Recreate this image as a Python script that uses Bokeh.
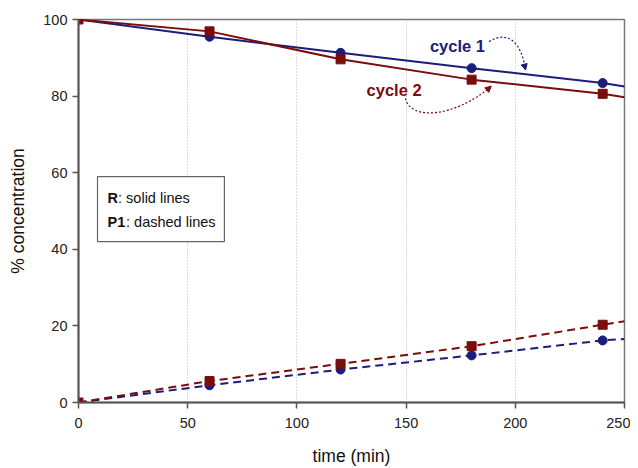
from bokeh.plotting import figure
from bokeh.models import Range1d, FixedTicker, Arrow, NormalHead
from bokeh.core.properties import value
from bokeh.embed import file_html
from bokeh.resources import INLINE

# ---- data ----
time = [0, 60, 120, 180, 240]
r_cycle1 = [100, 95.5, 91.3, 87.3, 83.4]
r_cycle2 = [100, 96.9, 89.6, 84.3, 80.6]
p1_cycle1 = [0, 4.5, 8.6, 12.3, 16.2]
p1_cycle2 = [0, 5.6, 10.1, 14.7, 20.3]
# lines continue to the right frame edge
t_end = 250
r_cycle1_end = 82.5
r_cycle2_end = 79.7
p1_cycle1_end = 16.6
p1_cycle2_end = 21.2

x_ticks = [0, 50, 100, 150, 200, 250]
y_ticks = [0, 20, 40, 60, 80, 100]

BLUE = "#1c1c7c"
RED = "#7a0c0c"
FONT = "Liberation Sans"

p = figure(width=630, height=468, output_backend="svg", toolbar_location=None,
           x_range=Range1d(0, 250), y_range=Range1d(0, 100),
           min_border_left=78, min_border_right=6, min_border_top=19, min_border_bottom=66)

p.outline_line_color = "#777777"
p.outline_line_width = 1.5
p.background_fill_color = "white"
p.border_fill_color = "white"

p.xaxis.ticker = FixedTicker(ticks=x_ticks)
p.yaxis.ticker = FixedTicker(ticks=y_ticks)
for ax in (p.xaxis[0], p.yaxis[0]):
    ax.axis_line_color = "#555555"
    ax.axis_line_width = 2
    ax.major_tick_line_color = "#555555"
    ax.major_tick_line_width = 1.5
    ax.major_tick_out = 6
    ax.major_tick_in = 0
    ax.minor_tick_line_color = None
    ax.major_label_text_font = FONT
    ax.major_label_text_font_size = "14.5px"
    ax.major_label_text_color = "#222222"
    ax.axis_label_text_font = FONT
    ax.axis_label_text_font_size = "17.5px"
    ax.axis_label_text_font_style = "normal"
    ax.axis_label_text_color = "#111111"

p.xaxis.major_label_standoff = 9
p.yaxis.major_label_standoff = 5
p.xaxis.axis_label = "time (min)"
p.yaxis.axis_label = "% concentration"
p.xaxis.axis_label_standoff = 15
p.yaxis.axis_label_standoff = 12

p.xgrid.ticker = FixedTicker(ticks=[50, 100, 150, 200])
p.xgrid.grid_line_color = "#bbbbbb"
p.xgrid.grid_line_dash = "1 2"
p.xgrid.grid_line_width = 1
p.ygrid.grid_line_color = None

# solid lines (R)
p.line(time + [t_end], r_cycle1 + [r_cycle1_end], line_color=BLUE, line_width=2)
p.line(time + [t_end], r_cycle2 + [r_cycle2_end], line_color=RED, line_width=2)
# dashed lines (P1)
p.line(time + [t_end], p1_cycle1 + [p1_cycle1_end], line_color=BLUE, line_width=2, line_dash="8 5")
p.line(time + [t_end], p1_cycle2 + [p1_cycle2_end], line_color=RED, line_width=2, line_dash="8 5")

p.scatter(time, r_cycle1, marker="circle", size=9, color=BLUE)
p.scatter(time, p1_cycle1, marker="circle", size=9, color=BLUE)
p.scatter(time, r_cycle2, marker="square", size=9, color=RED)
p.scatter(time, p1_cycle2, marker="square", size=9, color=RED)

# annotations
p.text(x=[173.5], y=[93.2], text=["cycle 1"], text_font=value(FONT), text_font_size="16.5px",
       text_font_style="bold", text_color=BLUE, text_align="center", text_baseline="middle")
p.text(x=[144.5], y=[81.5], text=["cycle 2"], text_font=value(FONT), text_font_size="16.5px",
       text_font_style="bold", text_color=RED, text_align="center", text_baseline="middle")

p.bezier(x0=[188], y0=[94.2], x1=[204.5], y1=[87.2], cx0=[197], cy0=[97.5], cx1=[203], cy1=[93.5],
         line_color=BLUE, line_width=1.2, line_dash="2 2")
p.add_layout(Arrow(end=NormalHead(size=6, fill_color=BLUE, line_color=BLUE),
                   x_start=204.2, y_start=88.0, x_end=204.7, y_end=86.8,
                   line_color=BLUE, line_width=1))
p.bezier(x0=[149.7], y0=[79.4], x1=[188.5], y1=[82.3], cx0=[152], cy0=[73.5], cx1=[172], cy1=[74.5],
         line_color=RED, line_width=1.2, line_dash="2 2")
p.add_layout(Arrow(end=NormalHead(size=6, fill_color=RED, line_color=RED),
                   x_start=187.0, y_start=81.6, x_end=189.0, y_end=82.6,
                   line_color=RED, line_width=1))

# legend box
p.quad(left=[8.7], right=[66.8], bottom=[42.0], top=[59.0], fill_color="white",
       line_color="#666666", line_width=1.2)
p.text(x=[13.3], y=[53.5], text=["R"], text_font=value(FONT), text_font_size="14.5px",
       text_font_style="bold", text_color="#111111", text_baseline="middle")
p.text(x=[13.3], y=[53.5], text=[": solid lines"], x_offset=10.5, text_font=value(FONT),
       text_font_size="14.5px", text_color="#111111", text_baseline="middle")
p.text(x=[13.3], y=[47.0], text=["P1"], text_font=value(FONT), text_font_size="14.5px",
       text_font_style="bold", text_color="#111111", text_baseline="middle")
p.text(x=[13.3], y=[47.0], text=[": dashed lines"], x_offset=18.5, text_font=value(FONT),
       text_font_size="14.5px", text_color="#111111", text_baseline="middle")

open("out.html", "w").write(file_html(p, INLINE))
